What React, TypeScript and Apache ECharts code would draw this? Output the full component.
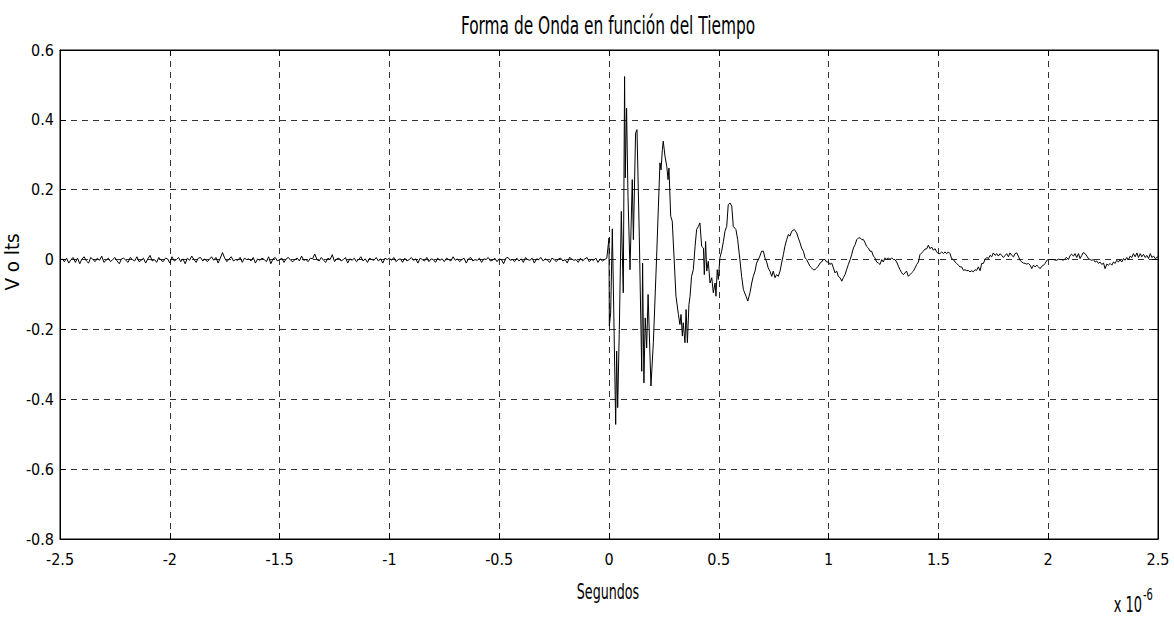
import React, { useEffect, useRef } from "react";
import * as echarts from "echarts";

// Axis ticks
const xTicks = [-2.5, -2, -1.5, -1, -0.5, 0, 0.5, 1, 1.5, 2, 2.5];
const yTicks = [-0.8, -0.6, -0.4, -0.2, 0, 0.2, 0.4, 0.6];

// Pre-trigger noise (mV), sampled every 0.01 µs from -2.5 µs
const noiseStart = -2.5;
const noiseStep = 0.01;
const noiseMilliVolts = [
  -4, 2, -6, 4, -10, 0, 6, -8, 4, -12, 2, 8, -4, -10, 6, 0, -6, 4, -2, 10, -8, -2, 4, -6, 0,
  6, -4, -12, 2, 4, -2, -8, 6, 0, -4, 8, -6, -2, 4, -10, 2, 12, -4, 0, -8, 6, -2, -6, 4, 2,
  -10, 8, -4, 0, 6, -6, 2, -12, 4, -2, 10, 0, -8, 4, 6, -4, 2, -6, 0, 8, -2, 6, -10, 4, 20,
  4, -6, 2, 8, -4, 0, -2, 6, -8, 4, 0, 2, -4, 6, -10, 2, -2, 4, 0, -6, 8, -12, 2, 6, -4,
  0, 4, -8, 2, 6, -2, -6, 0, 4, -4, 10, -2, 0, -6, 4, 2, 16, 0, -4, 6, -2, -8, 4, 0, 14,
  -6, 2, 4, -4, 0, 6, -10, 2, -2, 4, -6, 0, 8, -4, 2, -8, 4, 0, -2, 6, -4, 2, -10, 4, 0,
  4, -2, 6, -6, 0, 2, -8, 4, -4, 0, 6, -2, 2, -10, 4, 0, -4, 6, -6, 2, 0, -8, 4, -2, 2,
  -6, 4, 0, -4, 8, -2, 2, -6, 0, 4, -10, 2, 6, -4, 0, -2, 4, -8, 2, 0, 6, -4, -2, 4, -6,
  2, 0, -12, 4, 6, -2, 0, -6, 4, -4, 2, -8, 6, 0, -2, 4, -10, 2, 0, 6, -4, 2, -2, -8, 4,
  0, -6, 2, 4, -4, 0, -10, 6, 2, -2, 0, -8, 4, -4, 2, 6, -6, 0, -2, 4, -8, 2, -4, 0, 4,
];

// Signal after trigger: time (µs) and volts
const signalTime = [
  0.000, 0.0015, 0.0076, 0.0152, 0.0304, 0.0349, 0.0395, 0.047, 0.056, 0.065,
  0.071, 0.074, 0.080, 0.0865, 0.0956, 0.106, 0.111, 0.121, 0.1275, 0.138,
  0.149, 0.153, 0.159, 0.165, 0.1715, 0.178, 0.191, 0.202, 0.217, 0.225,
  0.232, 0.237, 0.243, 0.247, 0.255, 0.263, 0.269, 0.273, 0.281, 0.288,
  0.305, 0.316, 0.323, 0.328, 0.334, 0.338, 0.346, 0.351, 0.357, 0.364,
  0.369, 0.376, 0.384, 0.392, 0.399, 0.407, 0.414, 0.422, 0.430, 0.434,
  0.440, 0.445, 0.452, 0.460, 0.468, 0.475, 0.483, 0.487, 0.493, 0.498,
  0.505, 0.513, 0.521, 0.528, 0.536, 0.543, 0.551, 0.559, 0.566, 0.578,
  0.586, 0.596, 0.604, 0.612, 0.624, 0.632, 0.642, 0.650, 0.657, 0.665,
  0.672, 0.680, 0.687, 0.695, 0.703, 0.710, 0.718, 0.725, 0.733, 0.741,
  0.748, 0.756, 0.763, 0.771, 0.779, 0.786, 0.794, 0.801, 0.809, 0.817,
  0.824, 0.832, 0.844, 0.855, 0.862, 0.870, 0.877, 0.885, 0.893, 0.900,
  0.908, 0.915, 0.923, 0.930, 0.938, 0.946, 0.953, 0.961, 0.968, 0.976,
  0.984, 0.991, 0.999, 1.006, 1.014, 1.022, 1.029, 1.037, 1.044, 1.052,
  1.060, 1.067, 1.075, 1.082, 1.090, 1.098, 1.105, 1.113, 1.121, 1.128,
  1.136, 1.144, 1.151, 1.159, 1.166, 1.173, 1.181, 1.189, 1.196, 1.204,
  1.211, 1.219, 1.227, 1.234, 1.242, 1.249, 1.257, 1.265, 1.272, 1.280,
  1.287, 1.295, 1.302, 1.310, 1.318, 1.325, 1.333, 1.340, 1.348, 1.355,
  1.363, 1.371, 1.378, 1.386, 1.394, 1.401, 1.409, 1.416, 1.424, 1.431,
  1.439, 1.447, 1.454, 1.462, 1.469, 1.477, 1.485, 1.492, 1.500, 1.507,
  1.515, 1.523, 1.530, 1.538, 1.545, 1.553, 1.560, 1.568, 1.576, 1.583,
  1.591, 1.598, 1.606, 1.614, 1.621, 1.629, 1.636, 1.644, 1.652, 1.659,
  1.667, 1.674, 1.682, 1.690, 1.697, 1.705, 1.712, 1.720, 1.728, 1.735,
  1.743, 1.750, 1.758, 1.766, 1.773, 1.781, 1.788, 1.796, 1.804, 1.811,
  1.819, 1.826, 1.834, 1.842, 1.849, 1.857, 1.864, 1.872, 1.880, 1.887,
  1.895, 1.902, 1.910, 1.918, 1.925, 1.933, 1.940, 1.948, 1.956, 1.963,
  1.971, 1.979, 1.986, 1.994, 2.001, 2.008, 2.023, 2.039, 2.046, 2.054,
  2.062, 2.069, 2.077, 2.084, 2.092, 2.100, 2.107, 2.115, 2.122, 2.130,
  2.138, 2.145, 2.153, 2.160, 2.168, 2.176, 2.183, 2.191, 2.198, 2.206,
  2.214, 2.221, 2.229, 2.236, 2.244, 2.252, 2.259, 2.267, 2.274, 2.282,
  2.290, 2.297, 2.305, 2.312, 2.320, 2.327, 2.335, 2.343, 2.350, 2.358,
  2.366, 2.373, 2.381, 2.388, 2.396, 2.404, 2.411, 2.419, 2.426, 2.434,
  2.442, 2.449, 2.457, 2.465, 2.472, 2.480, 2.487, 2.495, 2.500,
];
const signalVolts = [
  0.062, -0.19, -0.153, 0.088, -0.472, -0.262, -0.424, -0.2, 0.138, -0.095,
  0.524, 0.234, 0.434, 0.181, -0.029, 0.229, 0.057, 0.362, 0.372, 0.067,
  -0.32, -0.01, -0.353, -0.167, -0.253, -0.1, -0.362, -0.238, 0.01, 0.153,
  0.277, 0.257, 0.315, 0.339, 0.296, 0.267, 0.229, 0.262, 0.124, 0.11,
  -0.105, -0.157, -0.186, -0.157, -0.219, -0.181, -0.238, -0.143, -0.238, -0.129,
  -0.105, -0.048, -0.029, 0.038, 0.086, 0.095, 0.105, 0.038, 0.033, -0.043,
  0.052, -0.033, -0.005, -0.067, -0.052, -0.095, -0.067, -0.105, -0.029, -0.057,
  0.005, 0.024, 0.052, 0.081, 0.095, 0.157, 0.162, 0.153, 0.095, 0.086,
  0.057, 0.0, -0.048, -0.086, -0.105, -0.119, -0.095, -0.067, -0.048, -0.033,
  -0.01, 0.0, 0.01, 0.024, 0.024, 0.005, -0.007, -0.024, -0.033, -0.048,
  -0.033, -0.052, -0.043, -0.048, -0.033, -0.01, 0.014, 0.038, 0.057, 0.072,
  0.067, 0.081, 0.086, 0.076, 0.062, 0.048, 0.033, 0.024, 0.005, 0.0,
  -0.01, -0.019, -0.024, -0.029, -0.029, -0.024, -0.019, -0.01, -0.007, 0.0,
  0.0, -0.007, -0.007, -0.014, -0.01, -0.024, -0.038, -0.033, -0.048, -0.052,
  -0.062, -0.052, -0.043, -0.029, -0.014, 0.0, 0.014, 0.033, 0.043, 0.057,
  0.062, 0.062, 0.057, 0.057, 0.048, 0.038, 0.033, 0.024, 0.024, 0.01,
  0.005, -0.007, -0.01, -0.014, 0.0, -0.007, 0.005, 0.0, 0.005, 0.0,
  0.005, 0.0, 0.0, -0.007, -0.019, -0.029, -0.038, -0.043, -0.038, -0.033,
  -0.048, -0.043, -0.038, -0.033, -0.024, -0.014, -0.007, 0.014, 0.019, 0.024,
  0.03, 0.031, 0.041, 0.031, 0.036, 0.027, 0.031, 0.022, 0.017, 0.017,
  0.022, 0.017, 0.022, 0.017, 0.022, 0.017, 0.003, 0.0, -0.007, -0.011,
  -0.016, -0.021, -0.021, -0.031, -0.029, -0.032, -0.031, -0.035, -0.032, -0.035,
  -0.029, -0.031, -0.021, -0.032, -0.011, -0.011, 0.0, 0.006, 0.003, 0.012,
  0.008, 0.019, 0.012, 0.017, 0.01, 0.017, 0.012, 0.006, 0.012, 0.017,
  0.008, 0.019, 0.012, 0.008, 0.017, 0.019, 0.01, -0.002, -0.007, -0.01,
  -0.011, -0.013, -0.011, -0.016, -0.026, -0.016, -0.021, -0.016, -0.021, -0.026,
  -0.019, -0.016, -0.011, -0.002, 0.0, 0.0, 0.0, -0.002, 0.001, 0.0,
  0.0, -0.002, 0.003, 0.006, 0.0, 0.012, 0.015, 0.01, 0.017, 0.006,
  0.017, 0.003, 0.012, 0.02, 0.017, 0.01, 0.003, 0.0, -0.002, 0.0,
  -0.007, -0.004, -0.011, -0.007, -0.014, -0.01, -0.026, -0.013, -0.016, -0.011,
  -0.016, -0.007, -0.011, -0.002, -0.007, 0.0, -0.007, 0.003, -0.002, 0.006,
  0.0, 0.01, 0.006, 0.017, 0.008, 0.019, 0.006, 0.017, 0.008, 0.015,
  0.006, 0.012, 0.003, 0.017, 0.006, 0.01, 0.003, 0.006, 0.008,
];

const FONT = "'Liberation Sans Narrow', 'Arial Narrow', 'DejaVu Sans Condensed', Arial, sans-serif";

export default function App() {
  const ref = useRef<HTMLDivElement>(null);

  useEffect(() => {
    if (!ref.current) return;
    const chart = echarts.init(ref.current, undefined, { renderer: "svg" });

    const data: [number, number][] = [];
    noiseMilliVolts.forEach((mv, i) => {
      data.push([noiseStart + i * noiseStep, mv / 1000]);
    });
    signalTime.forEach((t, i) => {
      data.push([t, signalVolts[i]]);
    });

    const fmt = (v: number) => String(Math.round(v * 10) / 10);
    const gridLine = { show: true, lineStyle: { color: "#333", width: 1, type: [6, 5] as any } };
    const axisLine = { show: true, onZero: false, lineStyle: { color: "#000", width: 1 } };
    const tick = { show: true, inside: true, length: 6, lineStyle: { color: "#000" } };

    chart.setOption({
      animation: false,
      backgroundColor: "#fff",
      grid: { left: 60, right: 16, top: 50, bottom: 82, show: true, borderColor: "#000", borderWidth: 1 },
      xAxis: [
        {
          type: "value",
          min: xTicks[0],
          max: xTicks[xTicks.length - 1],
          interval: 0.5,
          position: "bottom",
          axisLine,
          axisTick: tick,
          axisLabel: { color: "#000", fontSize: 16, fontFamily: FONT, margin: 12, formatter: fmt },
          splitLine: gridLine,
        },
        {
          type: "value",
          min: xTicks[0],
          max: xTicks[xTicks.length - 1],
          interval: 0.5,
          position: "top",
          axisLine,
          axisTick: tick,
          axisLabel: { show: false },
          splitLine: { show: false },
        },
      ],
      yAxis: [
        {
          type: "value",
          min: yTicks[0],
          max: yTicks[yTicks.length - 1],
          interval: 0.2,
          position: "left",
          axisLine,
          axisTick: tick,
          axisLabel: { color: "#000", fontSize: 16, fontFamily: FONT, margin: 6, formatter: fmt },
          splitLine: gridLine,
        },
        {
          type: "value",
          min: yTicks[0],
          max: yTicks[yTicks.length - 1],
          interval: 0.2,
          position: "right",
          axisLine,
          axisTick: tick,
          axisLabel: { show: false },
          splitLine: { show: false },
        },
      ],
      series: [
        {
          type: "line",
          xAxisIndex: 0,
          yAxisIndex: 0,
          data,
          showSymbol: false,
          symbol: "none",
          lineStyle: { color: "#000", width: 1 },
          silent: true,
        },
      ],
      graphic: [
        {
          type: "text",
          x: 608,
          y: 25,
          scaleX: 0.815,
          scaleY: 1.2,
          style: { text: "Forma de Onda en función del Tiempo", align: "center", verticalAlign: "middle", font: `21px ${FONT}`, fill: "#000" },
        },
        {
          type: "text",
          x: 608,
          y: 592,
          scaleX: 0.83,
          scaleY: 1.2,
          style: { text: "Segundos", align: "center", verticalAlign: "middle", font: `17px ${FONT}`, fill: "#000" },
        },
        {
          type: "text",
          x: 12,
          y: 262,
          rotation: Math.PI / 2,
          scaleX: 1.2,
          scaleY: 1.15,
          style: { text: "V o lts", align: "center", verticalAlign: "middle", font: `17px ${FONT}`, fill: "#000" },
        },
        {
          type: "text",
          x: 1142,
          y: 605,
          scaleX: 0.85,
          scaleY: 1.2,
          style: { text: "x 10", align: "right", verticalAlign: "middle", font: `17px ${FONT}`, fill: "#000" },
        },
        {
          type: "text",
          x: 1143,
          y: 594,
          scaleX: 0.85,
          scaleY: 1.2,
          style: { text: "-6", align: "left", verticalAlign: "middle", font: `13px ${FONT}`, fill: "#000" },
        },
      ],
    });

    return () => chart.dispose();
  }, []);

  return <div ref={ref} style={{ position: "absolute", left: 0, top: 0, width: 1174, height: 621 }} />;
}
